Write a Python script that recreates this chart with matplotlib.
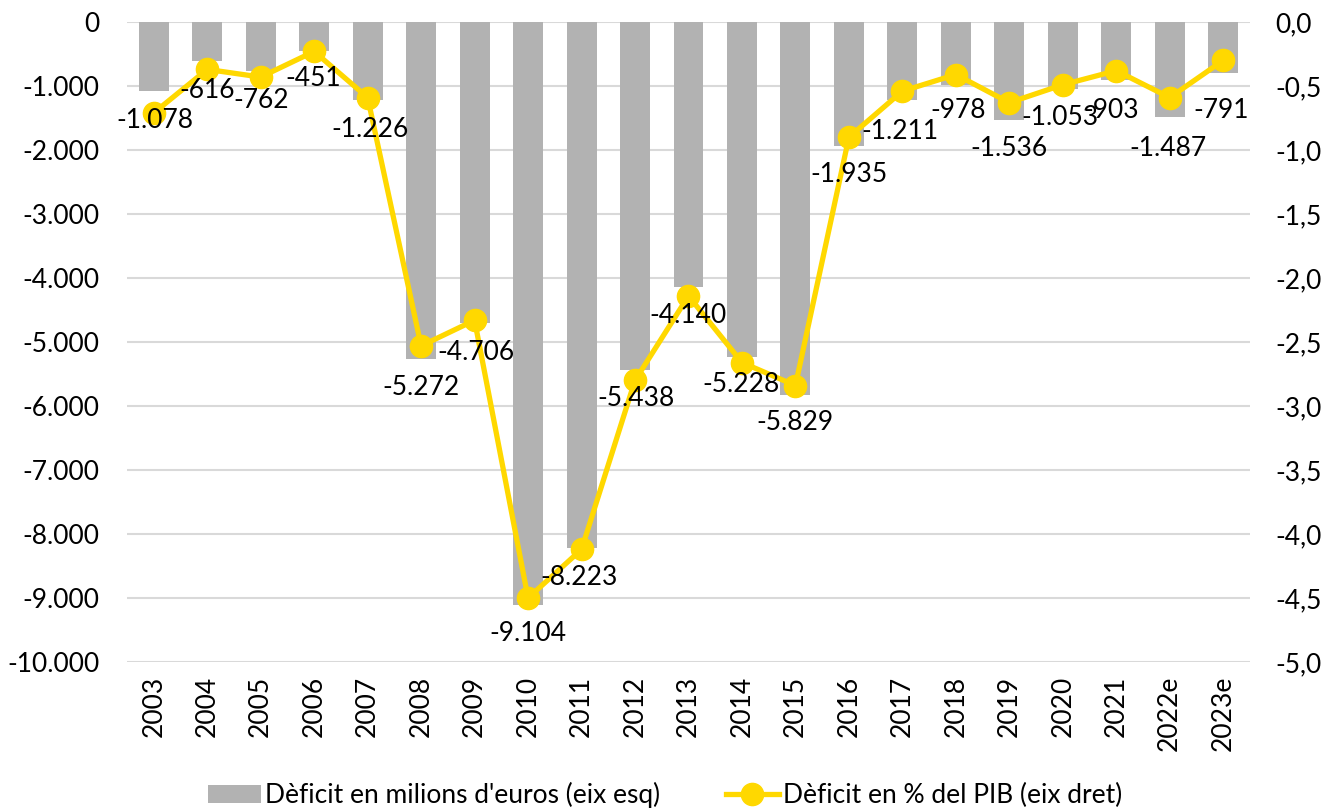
import numpy as np
import matplotlib
matplotlib.use("Agg")
import matplotlib.pyplot as plt
from matplotlib.ticker import FuncFormatter

plt.rcParams['font.family'] = ['Lato', 'DejaVu Sans']

anys = ['2003', '2004', '2005', '2006', '2007', '2008', '2009', '2010', '2011', '2012', '2013',
        '2014', '2015', '2016', '2017', '2018', '2019', '2020', '2021', '2022e', '2023e']
deficit_meur = [-1078, -616, -762, -451, -1226, -5272, -4706, -9104, -8223, -5438, -4140,
                -5228, -5829, -1935, -1211, -978, -1536, -1053, -903, -1487, -791]
deficit_pib = [-0.71, -0.37, -0.43, -0.23, -0.59, -2.53, -2.33, -4.50, -4.12, -2.80, -2.14,
               -2.66, -2.84, -0.90, -0.54, -0.41, -0.63, -0.49, -0.38, -0.59, -0.30]

# desplaçament de les etiquetes respecte del punt de la línia (pixels)
despl = [(1, -8), (0, -21), (0, -23), (-1, -27), (2, -32), (0, -42), (1, -32), (0, -35),
         (-2, -28), (1, -18), (0, -20), (-1, -22), (0, -37), (0, -37), (-2, -40), (2, -36),
         (0, -46), (-3, -33), (-5, -40), (-2, -51), (-2, -50)]

gris = '#B2B2B2'
groc = '#FFD800'
fs = 19

fig = plt.figure(figsize=(13.3, 8.1), dpi=100)
ax = fig.add_axes([0.0955, 0.1827, 0.8443, 0.7901])
ax2 = ax.twinx()

x = np.arange(len(anys))
ax.bar(x, deficit_meur, width=0.56, color=gris, zorder=2, label="Dèficit en milions d'euros (eix esq)")
ax.set_ylim(-10000, 0)
ax.set_yticks(np.arange(-10000, 1, 1000))
ax.yaxis.set_major_formatter(FuncFormatter(lambda v, p: f"{int(v):,}".replace(',', '.')))
ax.grid(axis='y', color='#D9D9D9', linewidth=1.5, zorder=0)
ax.set_axisbelow(True)
ax.set_xlim(-0.5, len(anys) - 0.5)
ax.set_xticks(x)
ax.set_xticklabels(anys, rotation=90, fontsize=fs)
ax.tick_params(axis='both', length=0, labelsize=fs)
ax.tick_params(axis='y', pad=20)
ax.tick_params(axis='x', pad=10)

ax2.plot(x, deficit_pib, color=groc, linewidth=3.8, marker='o', markersize=16,
         zorder=3, label='Dèficit en % del PIB (eix dret)')
ax2.set_ylim(-5, 0)
ax2.set_yticks(np.arange(-5, 0.01, 0.5))
ax2.yaxis.set_major_formatter(FuncFormatter(lambda v, p: f"{v:.1f}".replace('.', ',')))
ax2.tick_params(axis='y', length=0, labelsize=fs, pad=18)

for a in (ax, ax2):
    for s in a.spines.values():
        s.set_visible(False)

for i, (v, p) in enumerate(zip(deficit_meur, deficit_pib)):
    ax2.annotate(f"{v:,}".replace(',', '.'), (i, p), xytext=despl[i], textcoords='offset pixels',
                 ha='center', va='center', fontsize=fs, zorder=5)

h1, l1 = ax.get_legend_handles_labels()
h2, l2 = ax2.get_legend_handles_labels()
fig.legend(h1 + h2, l1 + l2, loc='center', bbox_to_anchor=(0.5, 0.018), ncol=2, frameon=False,
           fontsize=fs, handlelength=2.0, handletextpad=0.15, columnspacing=2.5)

fig.savefig('out.png', dpi=100)
